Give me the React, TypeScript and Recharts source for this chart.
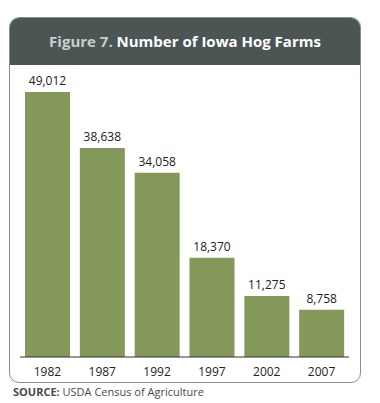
import React from 'react'
import { BarChart, Bar, XAxis, YAxis, LabelList } from 'recharts'

const years = ['1982', '1987', '1992', '1997', '2002', '2007']
const farms = [49012, 38638, 34058, 18370, 11275, 8758]

const data = years.map((year, i) => ({ year, farms: farms[i] }))

const font = '"Open Sans", sans-serif'

export default function App() {
  return (
    <div
      style={{
        position: 'absolute',
        left: 0,
        top: 0,
        width: 380,
        height: 403,
        background: '#ffffff',
        fontFamily: font,
      }}
    >
      {/* card frame */}
      <div
        style={{
          position: 'absolute',
          left: 9,
          top: 17,
          width: 350,
          height: 364,
          border: '1px solid #8c8c8c',
          borderRadius: 10,
          overflow: 'hidden',
        }}
      >
        <div
          style={{
            height: 47,
            background: '#4b5654',
            color: '#ffffff',
            fontWeight: 700,
            fontSize: 15,
            textAlign: 'center',
            lineHeight: '47px',
          }}
        >
          <span style={{ color: '#c9cecd' }}>Figure 7.</span> Number of Iowa Hog Farms
        </div>
      </div>

      <div style={{ position: 'absolute', left: 0, top: 0 }}>
        <BarChart
          width={380}
          height={403}
          data={data}
          margin={{ top: 92, right: 31, bottom: 22, left: 20 }}
        >
          <XAxis
            dataKey="year"
            height={24}
            tickLine={false}
            axisLine={{ stroke: '#333333', strokeWidth: 1 }}
            tick={{ fill: '#222222', fontSize: 12, fontFamily: font }}
            tickMargin={4}
          />
          <YAxis hide domain={[0, 49012]} />
          <Bar dataKey="farms" fill="#84985a" barSize={45} isAnimationActive={false}>
            <LabelList
              dataKey="farms"
              position="top"
              offset={7}
              formatter={(v: number) => v.toLocaleString('en-US')}
              style={{ fill: '#222222', fontSize: 12, fontFamily: font }}
            />
          </Bar>
        </BarChart>
      </div>

      <div
        style={{
          position: 'absolute',
          left: 13,
          top: 384,
          fontSize: 11,
          color: '#4a4a4a',
          lineHeight: '16px',
        }}
      >
        <span style={{ fontWeight: 700 }}>SOURCE:</span> USDA Census of Agriculture
      </div>
    </div>
  )
}
